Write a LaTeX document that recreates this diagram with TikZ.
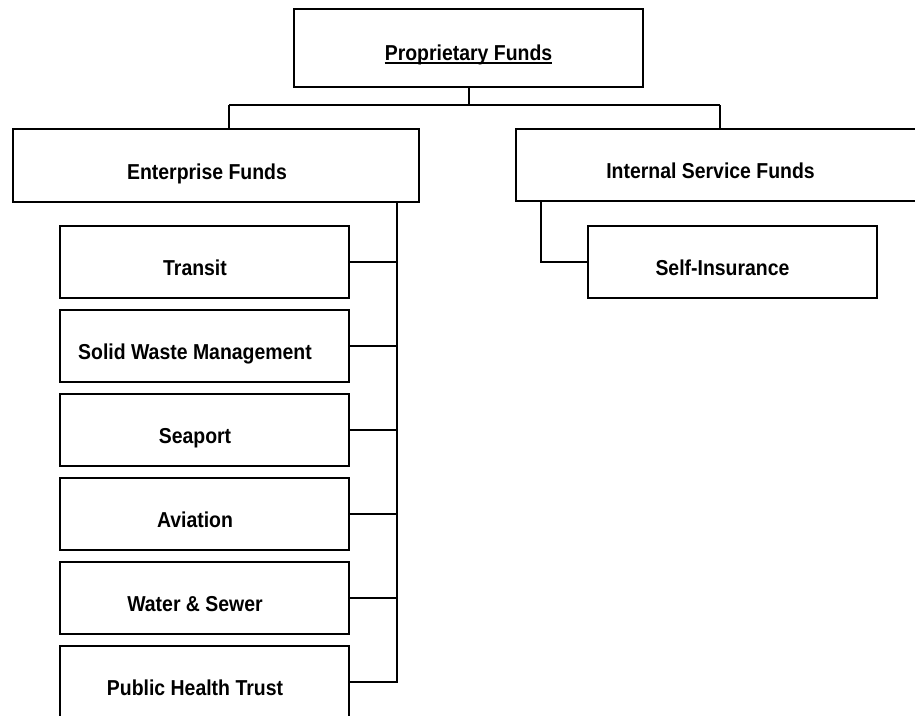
\documentclass[tikz,border=0pt]{standalone}
\usepackage{fontspec}
\setmainfont{Liberation Sans}[FakeStretch=0.9]
\begin{document}
\begin{tikzpicture}[x=1pt,y=-1pt,
  fundbox/.style={draw, line width=2pt, inner sep=0pt, fill=white},
  wire/.style={line width=1.2pt},
  boxtext/.style={font=\fontsize{21.6}{24}\selectfont\bfseries, inner sep=0pt, anchor=base}]
\useasboundingbox (0,0) rectangle (915,715);
\clip (0,0) rectangle (915,715);

% top level
\node[fundbox, minimum width=349pt, minimum height=78pt] (prop) at (468.5,48) {};
\node[boxtext] (propt) at ([yshift=-12pt]prop.center) {Proprietary Funds};
\draw[line width=1.6pt] ([yshift=-2.8pt]propt.base west) -- ([yshift=-2.8pt]propt.base east);

% second level
\node[fundbox, minimum width=406pt, minimum height=73pt] (ent) at (216,165.5) {};
\node[boxtext] (entt) at ([xshift=-9pt,yshift=-13.5pt]ent.center) {Enterprise Funds};
\node[fundbox, minimum width=408pt, minimum height=72pt] (isf) at (720,165) {};
\node[boxtext] (isft) at ([xshift=-9.5pt,yshift=-13pt]isf.center) {Internal Service Funds};

% enterprise funds
\foreach \n/\y/\t in {transit/262/Transit, swm/346/Solid Waste Management, seaport/430/Seaport,
    aviation/514/Aviation, water/598/Water \& Sewer, pht/682/Public Health Trust}{
  \node[fundbox, minimum width=289pt, minimum height=72pt] (\n) at (204.5,\y) {};
  \node[boxtext] (\n t) at ([xshift=-9.5pt,yshift=-13pt]\n.center) {\t};
}

% internal service funds
\node[fundbox, minimum width=289pt, minimum height=72pt] (selfins) at (732.5,262) {};
\node[boxtext] (selfinst) at ([xshift=-10pt,yshift=-13pt]selfins.center) {Self-Insurance};

% connectors
\coordinate (bus) at (469,105);
\coordinate (entIn) at (229,105);
\coordinate (isfIn) at (isf.north |- bus);
\draw[wire] (bus |- prop.south) -- (bus);
\draw[wire] (entIn) -- (isfIn);
\draw[wire] (entIn) -- (entIn |- ent.north);
\draw[wire] (isfIn) -- (isf.north);

\coordinate (spine) at (ent.south -| 397,0);
\draw[wire] (spine) |- (pht.east);
\foreach \n in {transit, swm, seaport, aviation, water}{
  \draw[wire] (\n.east) -- (\n.east -| spine);
}

\coordinate (isfDrop) at (isf.south -| 541,0);
\draw[wire] (isfDrop) |- (selfins.west);
\end{tikzpicture}
\end{document}
